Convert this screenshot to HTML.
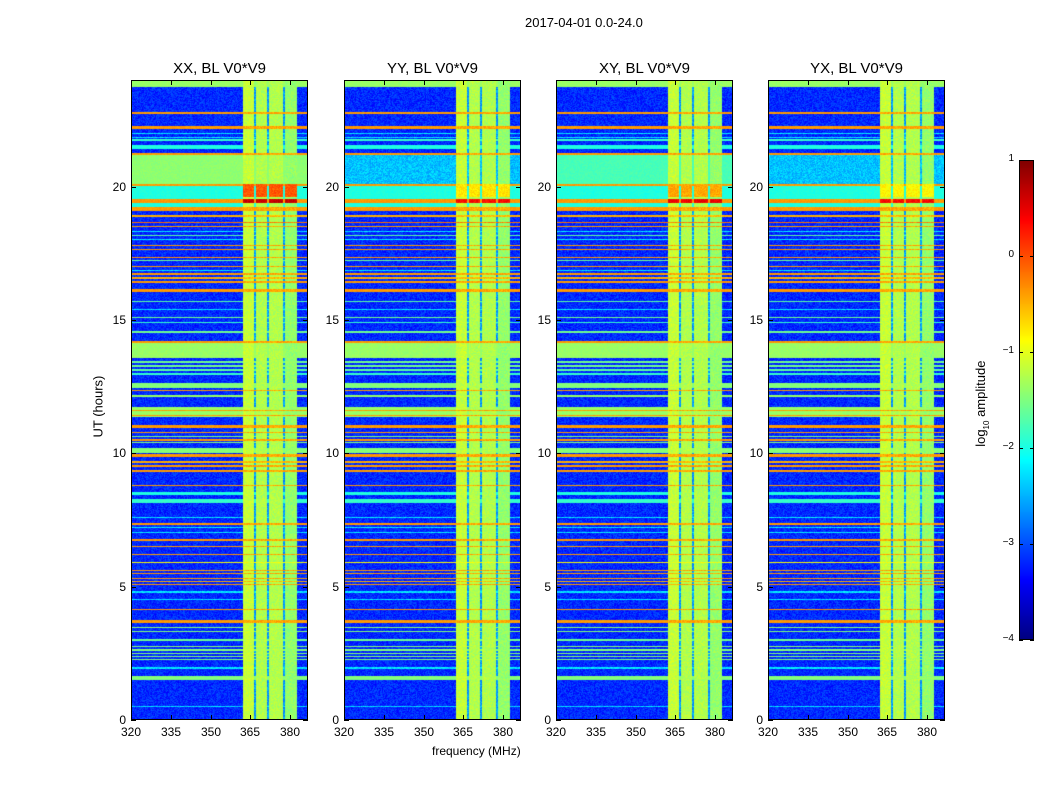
<!DOCTYPE html>
<html><head><meta charset="utf-8"><style>
body{margin:0;background:#fff;}
#root{position:relative;width:1050px;height:800px;font-family:"Liberation Sans",sans-serif;color:#000;overflow:hidden}
.t{position:absolute;white-space:nowrap;font-size:12px}
canvas{position:absolute}
.ax{position:absolute;border:1px solid #000;box-sizing:border-box}
.tk{position:absolute;background:#000}
</style></head><body>
<div id="root">
<div class="t" style="left:525px;top:15px;font-size:13px">2017-04-01 0.0-24.0</div>
<div class="t" style="left:60px;top:392px;transform:rotate(-90deg);transform-origin:center;width:76px;font-size:13px">UT (hours)</div>
<div class="t" style="left:432px;top:744px;font-size:12px">frequency (MHz)</div>
<div class="t" style="left:936px;top:392px;transform:rotate(-90deg);width:92px;font-size:13px">log<sub style="font-size:8px">10</sub> amplitude</div>
</div>
<script>
// ---- data ----
const panelTitles = ["XX, BL V0*V9","YY, BL V0*V9","XY, BL V0*V9","YX, BL V0*V9"];
const panelLefts = [131,344,556,768];
const yTicks = [0,5,10,15,20];
const xTicks = [320,335,350,365,380];
const cbTicks = [1,0,-1,-2,-3,-4];
// row features shared by all panels: [hourStart, hourEnd, log10 amplitude]
const rowBands = [
 [23.74,24,-1.3],[22.72,22.8,-0.3],[22.18,22.26,-0.3],[21.98,22.02,-2.0],[21.83,21.87,-2.0],[21.73,21.77,-1.8],
 [21.43,21.58,-1.9],[21.2,21.28,-0.3],[20.04,20.1,-0.3],[19.4,19.55,-0.3],[19.1,19.22,-0.3],
 [18.85,18.95,-0.4],[18.64,18.69,-0.1],[18.48,18.53,-0.3],[18.3,18.34,-2.0],[18.15,18.2,-1.6],[18.0,18.04,-2.0],
 [17.78,17.83,-0.3],[17.62,17.68,-0.3],[17.33,17.38,-0.3],[17.2,17.25,-1.5],[16.98,17.03,-0.3],[16.85,16.89,-2.0],
 [16.7,16.75,-0.3],[16.55,16.6,-0.4],[16.4,16.45,-0.3],[16.05,16.17,-0.3],
 [15.68,15.72,-1.6],[15.38,15.42,-2.0],[15.08,15.12,-1.5],[14.88,14.92,-1.8],[14.53,14.57,-1.5],
 [14.12,14.22,-0.3],[13.58,14.12,-1.3],[13.4,13.45,-1.5],[13.25,13.3,-1.5],[13.1,13.15,-1.6],[12.95,13.0,-1.8],
 [12.45,12.65,-1.4],[12.32,12.38,-0.3],[12.1,12.18,-1.3],
 [11.35,11.72,-1.3],[11.58,11.62,-0.3],[11.4,11.44,-0.3],[10.95,11.05,-0.3],[10.75,10.8,-0.3],[10.62,10.66,-1.4],
 [10.48,10.52,-0.3],[10.38,10.42,-1.4],[10.0,10.2,-1.4],[9.85,9.97,-0.3],[9.65,9.7,-0.4],[9.5,9.55,-0.3],[9.3,9.38,-0.3],
 [8.78,8.82,-0.3],[8.45,8.55,-1.9],[8.15,8.28,-1.8],[7.58,7.62,-2.0],[7.33,7.37,-0.3],[7.2,7.23,-2.0],[7.02,7.06,-2.0],
 [6.73,6.77,-0.3],[6.48,6.52,-0.3],[6.2,6.24,-0.3],[5.88,5.92,-0.8],[5.6,5.64,-0.3],[5.48,5.52,-0.3],[5.3,5.34,-0.3],
 [5.18,5.22,-0.4],[5.05,5.09,-0.3],[4.78,4.82,-2.0],[4.5,4.55,-2.0],[4.13,4.17,-0.3],[3.63,3.74,-0.3],
 [3.45,3.5,-1.4],[3.3,3.35,-1.4],[2.98,3.02,-1.5],[2.72,2.77,-1.4],[2.6,2.65,-1.4],[2.48,2.53,-1.4],[2.36,2.4,-1.4],[2.24,2.28,-1.4],
 [1.93,1.97,-2.0],[1.5,1.65,-1.4],[0.48,0.52,-2.1]
];
// per-panel level of the 20.1-21.2 h band
const bandLevel = [-1.35,-2.2,-1.7,-2.2];
// RFI-only rows: peak level per panel for 19.4-19.55h and 19.6-20.1h
const rfiPeak = [0.8,0.5,0.6,0.5];
const rfiHigh = [0.1,-0.6,-0.3,-0.7];
// frequency columns inside RFI block: [fStart, fEnd, level]
const freqCols = [[362.3,366.3,-1.0],[366.3,367.0,-2.4],[367.0,371.5,-1.1],[371.5,372.2,-2.4],[372.2,377.4,-1.1],[377.4,378.0,-2.4],[378.0,382.6,-1.25]];

// ---- helpers ----
const root=document.getElementById('root');
const W=177,H=640,TOP=80,VMIN=-4,VMAX=1,PXMHZ=2.65;
function jet(v){let t=(v-VMIN)/(VMAX-VMIN);t=Math.max(0,Math.min(1,t));
 const c=x=>Math.round(255*Math.max(0,Math.min(1,x)));
 return [c(1.5-Math.abs(4*t-3)),c(1.5-Math.abs(4*t-2)),c(1.5-Math.abs(4*t-1))];}
function hash(x,y){let n=x*374761393+y*668265263;n=(n^(n>>13))*1274126177;return ((n^(n>>16))>>>0)/4294967296;}
const yScale=h=>TOP+H-h/24*H;
const xScale=(f,left)=>left+(f-320)*PXMHZ;
function rowVal(h,p){let v=-2.95;
 if(h>=20.1&&h<21.2)v=bandLevel[p];
 if(h>=19.22&&h<20.04)v=Math.max(v,-1.9);
 for(const b of rowBands){if(h>=b[0]&&h<b[1])v=b[2];}
 return v;}
function add(el,name,inter){root.appendChild(el);return el;}
function txt(s,x,y,name,align){const d=document.createElement('div');d.className='t';d.textContent=s;
 d.style.top=(y-7)+'px';
 if(align==='r'){d.style.left=(x-40)+'px';d.style.width='40px';d.style.textAlign='right';}
 else {d.style.left=(x-30)+'px';d.style.width='60px';d.style.textAlign='center';}
 
 
 root.appendChild(d);return d;}
function tick(x,y,w,h){const t=document.createElement('div');t.className='tk';t.style.left=x+'px';t.style.top=y+'px';t.style.width=w+'px';t.style.height=h+'px';
 
 
 root.appendChild(t);}

panelLefts.forEach((L,p)=>{
 const cv=document.createElement('canvas');cv.width=W;cv.height=H;cv.style.left=L+'px';cv.style.top=TOP+'px';
 
 
 root.appendChild(cv);
 const ctx=cv.getContext('2d');const img=ctx.createImageData(W,H);
 for(let y=0;y<H;y++){const h=24-(y+0.5)/H*24;const rv=rowVal(h,p);
  for(let x=0;x<W;x++){const f=320+(x+0.5)/PXMHZ;let v=rv;let rfi=false;
   for(const c of freqCols){if(f>=c[0]&&f<c[1]){v=Math.max(rv,c[2]);
     if(c[2]>-2){rfi=true;if(h>=19.4&&h<19.55)v=rfiPeak[p];else if(h>=19.6&&h<20.1)v=rfiHigh[p];}
     break;}}
   if(v<-1.9)v+=(hash(x+p*1000,y)-0.5)*0.9;else if(rfi)v+=(hash(x,y+p*777)-0.5)*0.6;else v+=(hash(x,y+p*777)-0.5)*0.3;
   const col=jet(v);const i=(y*W+x)*4;img.data[i]=col[0];img.data[i+1]=col[1];img.data[i+2]=col[2];img.data[i+3]=255;}}
 ctx.putImageData(img,0,0);
 const ax=document.createElement('div');ax.className='ax';ax.style.left=L+'px';ax.style.top=TOP+'px';ax.style.width=W+'px';ax.style.height=H+'px';
 add(ax,'axes-frame','false');
 const tt=document.createElement('div');tt.className='t';tt.textContent=panelTitles[p];tt.style.left=L+'px';tt.style.width=W+'px';tt.style.textAlign='center';tt.style.top='60px';tt.style.fontSize='15px';
 add(tt,'panel-title','false');
 yTicks.forEach(v=>{const y=Math.round(yScale(v));tick(L,y,5,1);tick(L+W-5,y,5,1);txt(String(v),L-5,y,'y-tick-label','r');});
 xTicks.forEach(v=>{const x=Math.round(xScale(v,L));tick(x,TOP+H-5,1,5);tick(x,TOP,1,5);txt(String(v),x,TOP+H+12,'x-tick-label');});
});
// colorbar
const cb=document.createElement('canvas');cb.width=15;cb.height=480;cb.style.left='1019px';cb.style.top='160px';


root.appendChild(cb);
const cctx=cb.getContext('2d');
for(let y=0;y<480;y++){const c=jet(VMAX-(y+0.5)/480*(VMAX-VMIN));cctx.fillStyle=`rgb(${c[0]},${c[1]},${c[2]})`;cctx.fillRect(0,y,15,1);}
const cbf=document.createElement('div');cbf.className='ax';cbf.style.left='1019px';cbf.style.top='160px';cbf.style.width='15px';cbf.style.height='480px';
add(cbf,'colorbar-frame','false');
cbTicks.forEach(v=>{const y=Math.round(160+(VMAX-v)*96);tick(1019,y,4,1);tick(1030,y,4,1);
 txt(v<0?'\u2212'+(-v):String(v),1014,y,'colorbar-tick-label','r').style.fontSize='10px';});
</script>
</body></html>
